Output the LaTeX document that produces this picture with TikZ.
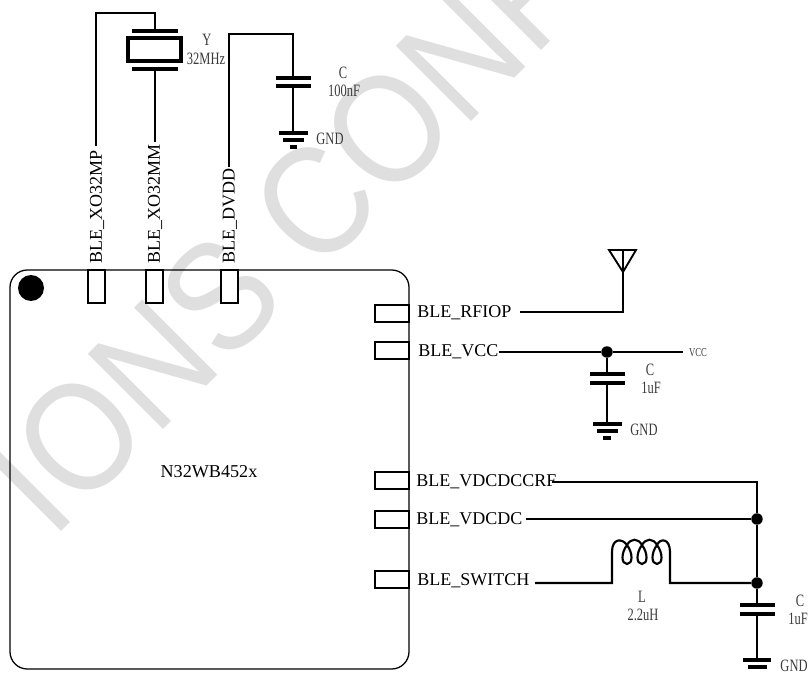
\documentclass[tikz,border=0pt]{standalone}
\usepackage{fontspec}
\setmainfont{Liberation Serif}
\newfontfamily\narrowf[FakeStretch=0.72]{Liberation Serif}
\newfontfamily\wmf[FakeStretch=0.89]{Liberation Sans}
\definecolor{wmgray}{HTML}{DFDFDF}
\definecolor{lblgray}{HTML}{3A3A3A}
\tikzset{
  x=0.75pt,y=-0.75pt,
  wire/.style={line width=1.6pt,black,line join=miter},
  thin wire/.style={line width=1.25pt,black},
  outline/.style={line width=0.95pt,black},
  plate/.style={line width=2.8pt,black},
  pinbox/.style={outline,fill=white},
  sig/.style={font=\fontsize{13.5pt}{15pt}\selectfont,inner sep=0pt,text=black},
  val/.style={font=\narrowf\fontsize{13pt}{14pt}\selectfont,inner sep=0pt,text=lblgray},
  junction/.style={circle,fill=black,inner sep=0pt,minimum size=8.6pt},
}
\begin{document}
\begin{tikzpicture}
\useasboundingbox (0,0) rectangle (810,673);
\begin{scope}
\clip (0,0) rectangle (810,673);
\node[rotate=45,text=wmgray,font=\wmf\fontsize{116pt}{125pt}\selectfont,inner sep=0pt] (wm) at (285,232) {IONS CONF};
\end{scope}

% chip
\draw[outline,rounded corners=13pt] (10,270) rectangle (409,669);
\fill[black] (31,288) ellipse (13 and 13);
\node[inner sep=0pt,font=\fontsize{13.6pt}{16pt}\selectfont] (chip) at (209,472) {N32WB452x};
\draw[pinbox] (88,270) rectangle (105,303);
\draw[pinbox] (146,270) rectangle (163,303);
\draw[pinbox] (221,270) rectangle (238,303);
\draw[pinbox] (375,305) rectangle (409,322);
\draw[pinbox] (375,342) rectangle (409,359);
\draw[pinbox] (375,472) rectangle (409,489);
\draw[pinbox] (375,511) rectangle (409,528);
\draw[pinbox] (375,571) rectangle (409,588);

% signal labels
\node[sig,rotate=90,anchor=west] (xomp) at (97,264) {BLE\_XO32MP};
\node[sig,rotate=90,anchor=west] (xomm) at (155,264) {BLE\_XO32MM};
\node[sig,rotate=90,anchor=west] (dvdd) at (230,264) {BLE\_DVDD};
\node[sig,anchor=west] (rfiop) at (417,313) {BLE\_RFIOP};
\node[sig,anchor=west] (vcc) at (418,352) {BLE\_VCC};
\node[sig,anchor=west] (ccrf) at (416,482) {BLE\_VDCDCCRF};
\node[sig,anchor=west] (vdc) at (416,520) {BLE\_VDCDC};
\node[sig,anchor=west] (sw) at (417,581) {BLE\_SWITCH};

% crystal
\coordinate (xtop) at (155,13);
\coordinate (xleft) at (96,13);
\coordinate (p1) at (155,31);
\coordinate (p2) at (155,69);
\draw[thin wire] (96,146) -- (xleft) -- (xtop) -- (p1);
\draw[thin wire] (p2) -- (155,142);
\draw[plate] (132,31) -- (178,31);
\draw[plate] (132,69) -- (178,69);
\draw[line width=2.6pt] (128,38) rectangle (181,61);
\node[val] (yref) at (207,40) {Y};
\node[val] (yval) at (206,59) {32MHz};

% DVDD cap
\coordinate (dtop) at (293,34);
\coordinate (c1t) at (293,78);
\coordinate (c1b) at (293,86);
\coordinate (g1) at (293,133);
\draw[thin wire] (229,167) -- (229,34) -- (dtop) -- (c1t);
\draw[plate] (276,78) -- (311,78);
\draw[plate] (276,86) -- (311,86);
\draw[wire] (c1b) -- (g1);
\draw[plate] (279,133) -- (308,133);
\draw[plate] (283,140) -- (304,140);
\draw[plate] (290,147) -- (297,147);
\node[val] (c1n) at (343,73) {C};
\node[val] (c1v) at (344,91) {100nF};
\node[val] (g1l) at (330,139) {GND};

% antenna
\coordinate (anc) at (623,272);
\coordinate (ant) at (623,250);
\draw[wire] (520,312) -- (623,312) -- (anc);
\draw[line width=1.4pt,line join=miter] (609,250) -- (636,250) -- (anc) -- cycle;
\draw[thin wire] (ant) -- (anc);

% VCC
\node[junction] (jv) at (607,352) {};
\node[val,font=\narrowf\fontsize{9pt}{10pt}\selectfont] (vccl) at (698,353) {VCC};
\draw[wire] (vcc.east) -- (jv) -- (683,352);
\draw[thin wire] (jv) -- (607,374);
\draw[plate] (590,374) -- (625,374);
\draw[plate] (590,383) -- (625,383);
\draw[wire] (607,383) -- (607,424);
\draw[plate] (593,424) -- (622,424);
\draw[plate] (597,431) -- (618,431);
\draw[plate] (603,438) -- (611,438);
\node[val] (c2n) at (650,370) {C};
\node[val] (c2v) at (651,388) {1uF};
\node[val] (g2l) at (644,430) {GND};

% DCDC
\node[junction] (j1) at (757,519) {};
\node[junction] (j2) at (757,583) {};
\draw[wire] (552,482) -- (757,482) -- (j1);
\draw[wire] (526,519) -- (j1);
\draw[wire] (j1) -- (j2);
\draw[wire] (j2) -- (757,605);
\draw[wire] (535,583) -- (612,583) -- (612,552)
  .. controls (612,538) and (622,538) .. (627,545)
  .. controls (633,553) and (633,564) .. (627,564)
  .. controls (621,564) and (621,553) .. (627,545)
  .. controls (631,538) and (638,538) .. (642,545)
  .. controls (648,553) and (648,564) .. (642,564)
  .. controls (636,564) and (636,553) .. (642,545)
  .. controls (646,538) and (653,538) .. (657,545)
  .. controls (663,553) and (663,564) .. (657,564)
  .. controls (651,564) and (651,553) .. (657,545)
  .. controls (660,538) and (670,538) .. (670,552)
  -- (670,583) -- (j2);
\draw[plate] (740,605) -- (775,605);
\draw[plate] (740,614) -- (775,614);
\draw[wire] (757,614) -- (757,660);
\draw[plate] (743,660) -- (771,660);
\draw[plate] (748,667) -- (767,667);
\node[val] (ln) at (642,597) {L};
\node[val] (lv) at (643,615) {2.2uH};
\node[val] (c3n) at (800,601) {C};
\node[val] (c3v) at (798,619) {1uF};
\node[val] (g3l) at (794,666) {GND};
\end{tikzpicture}
\end{document}
